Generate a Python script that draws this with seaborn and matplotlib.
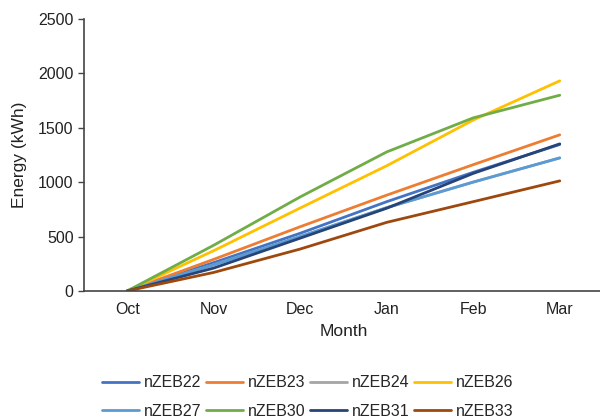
import pandas as pd
import numpy as np
import seaborn as sns
import matplotlib.pyplot as plt

months = ['Oct', 'Nov', 'Dec', 'Jan', 'Feb', 'Mar']
series_names = ['nZEB22', 'nZEB23', 'nZEB24', 'nZEB26', 'nZEB27', 'nZEB30', 'nZEB31', 'nZEB33']
nzeb22 = [0, 260, 530, 820, 1090, 1345]
nzeb23 = [0, 290, 590, 880, 1160, 1434]
nzeb24 = [0, 240, 500, 765, 1000, 1222]
nzeb26 = [0, 370, 762, 1150, 1570, 1930]
nzeb27 = [0, 240, 500, 765, 1000, 1222]
nzeb30 = [0, 420, 864, 1277, 1590, 1798]
nzeb31 = [0, 210, 485, 760, 1080, 1351]
nzeb33 = [0, 170, 385, 630, 820, 1011]
colors = ['#4472C4', '#ED7D31', '#A5A5A5', '#FFC000', '#5B9BD5', '#70AD47', '#264478', '#9E480E']

values = [nzeb22, nzeb23, nzeb24, nzeb26, nzeb27, nzeb30, nzeb31, nzeb33]
rows = []
for name, vals in zip(series_names, values):
    for i, (m, v) in enumerate(zip(months, vals)):
        rows.append({'month': m, 'pos': i, 'energy': v, 'series': name})
df = pd.DataFrame(rows)

sns.set_style('white')
plt.rcParams['font.family'] = ['Liberation Sans', 'DejaVu Sans']

fig = plt.figure(figsize=(6, 4.18), dpi=100)
ax = fig.add_axes([0.14, 0.304, 0.865, 0.651])
sns.lineplot(data=df, x='pos', y='energy', hue='series', hue_order=series_names,
             palette=colors, linewidth=2, ax=ax, legend=False)

ax.set_xlim(-0.5, 5.5)
ax.set_ylim(0, 2500)
ax.set_yticks(range(0, 2501, 500))
ax.set_xticks(range(len(months)))
ax.set_xticklabels(months)
ax.tick_params(axis='both', labelsize=11.5, colors='#222222')
ax.tick_params(axis='y', length=4, width=1, color='#444444', left=True, direction='out')
ax.tick_params(axis='x', length=0, pad=8)
ax.set_xlabel('Month', fontsize=12.5, color='#222222', labelpad=5)
ax.set_ylabel('Energy (kWh)', fontsize=12.5, color='#222222', labelpad=8)
sns.despine(ax=ax)
for s in ['left', 'bottom']:
    ax.spines[s].set_color('#444444')
    ax.spines[s].set_linewidth(1.2)

# legend fills column-wise, so interleave to get row-major order
handles = [plt.Line2D([], [], color=c, lw=2) for c in colors]
order = [0, 4, 1, 5, 2, 6, 3, 7]
fig.legend([handles[i] for i in order], [series_names[i] for i in order],
           loc='center', bbox_to_anchor=(0.513, 0.05), ncol=4,
           frameon=False, fontsize=11.5, handlelength=2.3, handletextpad=0.3,
           columnspacing=0.3, labelspacing=0.85)

fig.savefig('out.png', dpi=100)
